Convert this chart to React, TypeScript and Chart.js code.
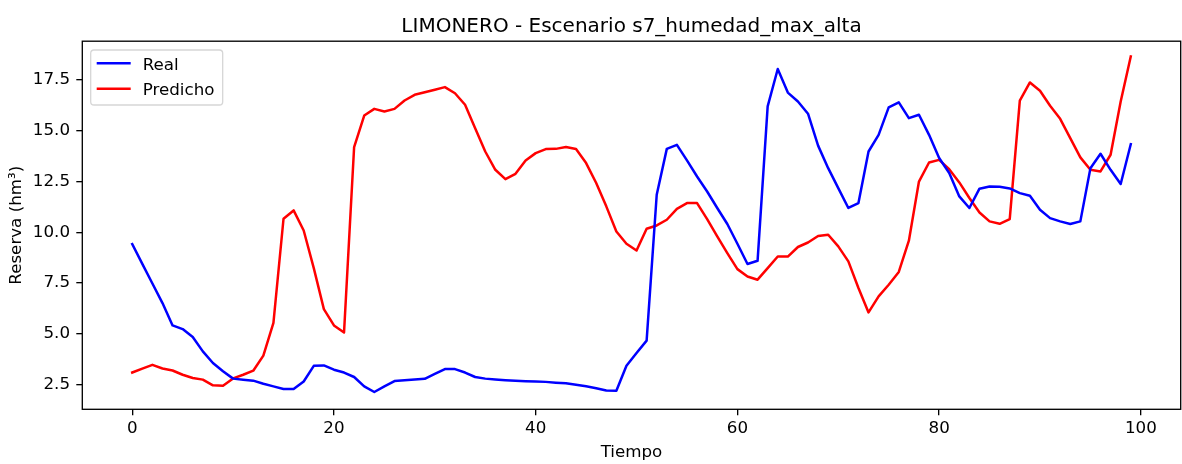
import React, { useEffect, useRef } from "react";
import { Chart, registerables } from "chart.js";

Chart.register(...registerables);

const titleText = "LIMONERO - Escenario s7_humedad_max_alta";
const xTitle = "Tiempo";
const yTitle = "Reserva (hm³)";

const realLabel = "Real";
const predLabel = "Predicho";

const real = [
  9.42, 8.45, 7.48, 6.52, 5.42, 5.24, 4.85, 4.14, 3.57, 3.16,
  2.8, 2.75, 2.7, 2.55, 2.42, 2.29, 2.29, 2.66, 3.43, 3.45,
  3.24, 3.1, 2.88, 2.42, 2.14, 2.42, 2.68, 2.72, 2.76, 2.79,
  3.03, 3.27, 3.27, 3.1, 2.88, 2.8, 2.76, 2.72, 2.69, 2.67,
  2.66, 2.64, 2.6, 2.57, 2.5, 2.42, 2.33, 2.22, 2.2, 3.43,
  4.06, 4.67, 11.85, 14.11, 14.31, 13.54, 12.75, 12.01, 11.2, 10.41,
  9.44, 8.44, 8.6, 16.2, 18.04, 16.88, 16.44, 15.84, 14.27, 13.16,
  12.18, 11.2, 11.44, 13.98, 14.8, 16.15, 16.4, 15.62, 15.79, 14.8,
  13.66, 12.92, 11.77, 11.2, 12.15, 12.26, 12.24, 12.16, 11.93, 11.8,
  11.11, 10.7, 10.54, 10.41, 10.54, 13.16, 13.87, 13.08, 12.38, 14.34,
];

const predicho = [
  3.1, 3.29, 3.48, 3.3, 3.2, 2.99, 2.83, 2.75, 2.47, 2.45,
  2.81, 2.99, 3.19, 3.93, 5.54, 10.67, 11.08, 10.09, 8.24, 6.22,
  5.42, 5.07, 14.2, 15.75, 16.08, 15.95, 16.08, 16.49, 16.77, 16.9,
  17.02, 17.15, 16.85, 16.28, 15.13, 13.98, 13.08, 12.62, 12.88, 13.54,
  13.9, 14.1, 14.11, 14.2, 14.1, 13.41, 12.43, 11.28, 10.04, 9.44,
  9.11, 10.18, 10.34, 10.62, 11.16, 11.44, 11.44, 10.65, 9.8, 8.98,
  8.19, 7.83, 7.67, 8.24, 8.81, 8.81, 9.28, 9.5, 9.82, 9.88,
  9.31, 8.57, 7.26, 6.06, 6.85, 7.42, 8.05, 9.59, 12.5, 13.44,
  13.57, 13.11, 12.46, 11.69, 10.98, 10.54, 10.42, 10.65, 16.48, 17.38,
  16.97, 16.23, 15.59, 14.64, 13.69, 13.08, 13.0, 13.82, 16.44, 18.66,
];

const tiempo = real.map((_, i) => i);

const xTicks = [0, 20, 40, 60, 80, 100];
const yTicks = [2.5, 5.0, 7.5, 10.0, 12.5, 15.0, 17.5];

const FONT = "'DejaVu Sans', sans-serif";
const FS = 16.7;

const framePlugin = {
  id: "mplFrame",
  afterDraw(chart: any) {
    const { ctx, chartArea } = chart;
    const { left, top, right, bottom } = chartArea;
    ctx.save();
    // title
    ctx.fillStyle = "#000";
    ctx.font = `20px ${FONT}`;
    ctx.textAlign = "center";
    ctx.textBaseline = "alphabetic";
    ctx.fillText(titleText, (left + right) / 2, 31.5);

    // spines
    ctx.strokeStyle = "#000";
    ctx.lineWidth = 1.33;
    ctx.strokeRect(left, top, right - left, bottom - top);

    // legend
    const bx = 90.7, by = 50, bw = 132, bh = 55, r = 3.3;
    ctx.beginPath();
    ctx.moveTo(bx + r, by);
    ctx.lineTo(bx + bw - r, by);
    ctx.arcTo(bx + bw, by, bx + bw, by + r, r);
    ctx.lineTo(bx + bw, by + bh - r);
    ctx.arcTo(bx + bw, by + bh, bx + bw - r, by + bh, r);
    ctx.lineTo(bx + r, by + bh);
    ctx.arcTo(bx, by + bh, bx, by + bh - r, r);
    ctx.lineTo(bx, by + r);
    ctx.arcTo(bx, by, bx + r, by, r);
    ctx.closePath();
    ctx.fillStyle = "rgba(255,255,255,0.8)";
    ctx.fill();
    ctx.strokeStyle = "rgba(204,204,204,0.8)";
    ctx.lineWidth = 1.3;
    ctx.stroke();

    const rows = [63.3, 88.7];
    const baselines = [70, 95.3];
    chart.data.datasets.forEach((ds: any, i: number) => {
      ctx.beginPath();
      ctx.strokeStyle = ds.borderColor;
      ctx.lineWidth = 2.5;
      ctx.lineCap = "butt";
      ctx.moveTo(96.7, rows[i]);
      ctx.lineTo(130.7, rows[i]);
      ctx.stroke();
      ctx.fillStyle = "#000";
      ctx.font = `${FS}px ${FONT}`;
      ctx.textAlign = "left";
      ctx.textBaseline = "alphabetic";
      ctx.fillText(ds.label, 142.7, baselines[i]);
    });
    ctx.restore();
  },
};

export default function App() {
  const ref = useRef<HTMLCanvasElement | null>(null);

  useEffect(() => {
    document.body.style.margin = "0";
    const canvas = ref.current;
    if (!canvas) return;
    const chart = new Chart(canvas, {
      type: "line",
      data: {
        datasets: [
          {
            label: realLabel,
            data: tiempo.map((t, i) => ({ x: t, y: real[i] })),
            borderColor: "#0000ff",
            backgroundColor: "#0000ff",
            borderWidth: 2.5,
            pointRadius: 0,
            tension: 0,
            borderJoinStyle: "round",
            borderCapStyle: "square",
          },
          {
            label: predLabel,
            data: tiempo.map((t, i) => ({ x: t, y: predicho[i] })),
            borderColor: "#ff0000",
            backgroundColor: "#ff0000",
            borderWidth: 2.5,
            pointRadius: 0,
            tension: 0,
            borderJoinStyle: "round",
            borderCapStyle: "square",
          },
        ],
      },
      options: {
        animation: false,
        responsive: false,
        devicePixelRatio: 1,
        layout: { padding: { top: 41.2, right: 1.3, left: 0, bottom: 0 } },
        plugins: {
          legend: { display: false },
          title: { display: false },
          tooltip: { enabled: false },
        },
        scales: {
          x: {
            type: "linear",
            min: -4.95,
            max: 103.95,
            afterBuildTicks: (scale: any) => {
              scale.ticks = xTicks.map((v) => ({ value: v }));
            },
            afterFit: (scale: any) => {
              scale.height = 54.7;
            },
            ticks: {
              callback: (v: any) => String(v),
              color: "#000",
              font: { family: FONT, size: FS },
              padding: 3.6,
              maxRotation: 0,
              autoSkip: false,
            },
            grid: {
              display: true,
              drawOnChartArea: false,
              drawTicks: true,
              tickLength: 6,
              color: "#000",
              lineWidth: 1.33,
            },
            border: { display: false },
            title: {
              display: true,
              text: xTitle,
              color: "#000",
              font: { family: FONT, size: FS, lineHeight: 1.2 },
              padding: { top: 0, bottom: 1 },
            },
          },
          y: {
            type: "linear",
            min: 1.29,
            max: 19.41,
            afterBuildTicks: (scale: any) => {
              scale.ticks = yTicks.map((v) => ({ value: v }));
            },
            afterFit: (scale: any) => {
              scale.width = 82.3;
            },
            ticks: {
              callback: (v: any) => Number(v).toFixed(1),
              color: "#000",
              font: { family: FONT, size: FS },
              padding: 6.3,
              autoSkip: false,
            },
            grid: {
              display: true,
              drawOnChartArea: false,
              drawTicks: true,
              tickLength: 6,
              color: "#000",
              lineWidth: 1.33,
            },
            border: { display: false },
            title: {
              display: true,
              text: yTitle,
              color: "#000",
              font: { family: FONT, size: FS, lineHeight: 1.2 },
              padding: { top: 6.7, bottom: 0 },
            },
          },
        },
      },
      plugins: [framePlugin],
    } as any);
    return () => chart.destroy();
  }, []);

  return (
    <div style={{ position: "absolute", left: 0, top: 0, width: 1182, height: 464, background: "#fff" }}>
      <canvas ref={ref} width={1182} height={464} style={{ width: 1182, height: 464, display: "block" }} />
    </div>
  );
}
